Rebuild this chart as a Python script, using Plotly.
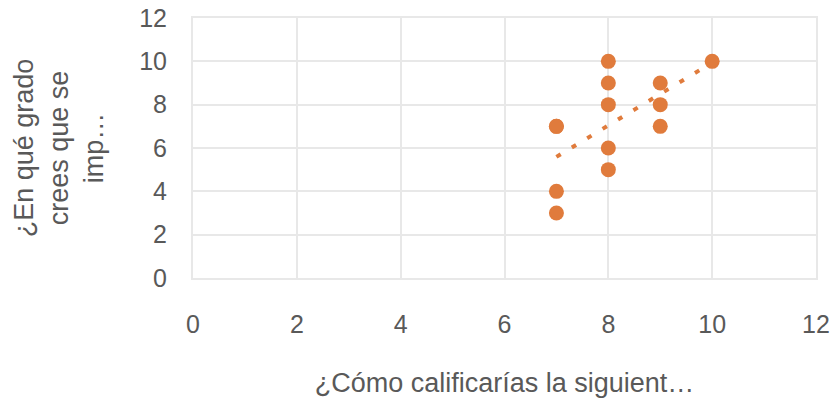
import numpy as np
import plotly.graph_objects as go

# ratings (7,7 appears twice, which the trendline reveals)
x_vals = [7, 7, 7, 7, 8, 8, 8, 8, 8, 9, 9, 9, 10]
y_vals = [7, 7, 4, 3, 10, 9, 8, 6, 5, 9, 8, 7, 10]

x_title = '¿Cómo calificarías la siguient…'
y_title = '¿En qué grado<br>crees que se<br>imp…'

orange = '#E07B3C'
grey = '#595959'
grid = '#E8E8E8'

# linear trendline, like Excel's
slope, icpt = np.polyfit(x_vals, y_vals, 1)
tx = [min(x_vals), max(x_vals)]
ty = [slope * v + icpt for v in tx]

fig = go.Figure()
fig.add_trace(go.Scatter(
    x=tx, y=ty, mode='lines',
    line=dict(color=orange, width=4, dash='5px,13px'),
    hoverinfo='skip',
))
fig.add_trace(go.Scatter(
    x=x_vals, y=y_vals, mode='markers',
    marker=dict(color=orange, size=15),
))

axis_common = dict(
    range=[0, 12],
    dtick=2,
    showgrid=True,
    gridcolor=grid,
    gridwidth=2,
    zeroline=False,
    showline=True,
    linecolor=grid,
    linewidth=2,
    mirror=True,
    tickfont=dict(size=25, color=grey),
    ticks='',
    automargin=False,
)

fig.update_layout(
    width=834,
    height=400,
    margin=dict(l=193, r=18, t=18, b=122, autoexpand=False),
    paper_bgcolor='white',
    plot_bgcolor='white',
    showlegend=False,
    font=dict(family='Liberation Sans, Arial, sans-serif', color=grey),
    xaxis=dict(
        axis_common,
        title=dict(text=x_title, font=dict(size=27, color=grey), standoff=36),
        ticklabelstandoff=23,
    ),
    yaxis=dict(
        axis_common,
        title=dict(text=y_title, font=dict(size=27, color=grey), standoff=28),
        ticklabelstandoff=19,
    ),
)

# drop the page's default body margin so the figure sits at 0,0
fig.write_html('out.html', config={'displayModeBar': False},
               post_script="document.body.style.margin='0';")
